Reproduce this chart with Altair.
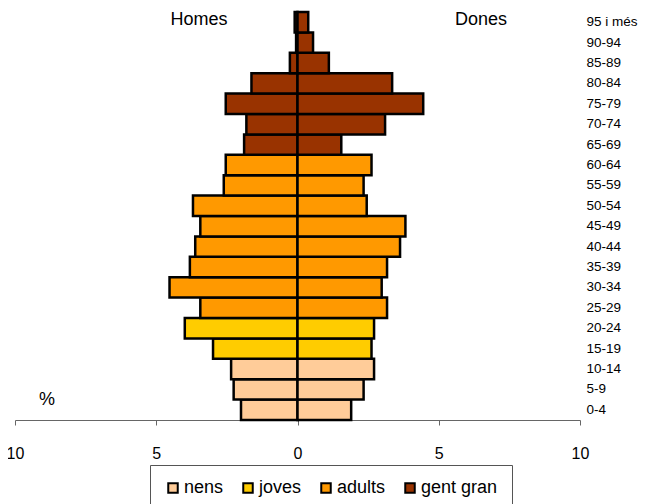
import altair as alt
import pandas as pd

ages = ["0-4", "5-9", "10-14", "15-19", "20-24", "25-29", "30-34", "35-39",
        "40-44", "45-49", "50-54", "55-59", "60-64", "65-69", "70-74", "75-79",
        "80-84", "85-89", "90-94", "95 i més"]
homes = [2.00, 2.26, 2.35, 2.99, 3.99, 3.44, 4.53, 3.81, 3.62, 3.44, 3.70,
         2.61, 2.54, 1.89, 1.81, 2.54, 1.63, 0.27, 0.05, 0.10]
dones = [1.90, 2.34, 2.71, 2.62, 2.71, 3.17, 2.98, 3.17, 3.63, 3.82, 2.45,
         2.34, 2.62, 1.55, 3.10, 4.45, 3.35, 1.11, 0.55, 0.38]
grups = ["nens"] * 3 + ["joves"] * 2 + ["adults"] * 8 + ["gent gran"] * 7
grup_names = ["nens", "joves", "adults", "gent gran"]
grup_colors = ["#FFCC99", "#FFCC00", "#FF9900", "#993300"]

rows = []
for a, h, d, g in zip(ages, homes, dones, grups):
    rows.append({"edat": a, "valor": -h, "sexe": "Homes", "grup": g})
    rows.append({"edat": a, "valor": d, "sexe": "Dones", "grup": g})
df = pd.DataFrame(rows)

FONT = "Liberation Sans"

x = alt.X("valor:Q",
          scale=alt.Scale(domain=[-10, 10], nice=False, zero=False),
          axis=alt.Axis(values=[-10, -5, 0, 5, 10], title=None, grid=False,
                        labelExpr="abs(datum.value)", labelFontSize=16,
                        labelFont=FONT, labelColor="black", labelPadding=20,
                        tickSize=5, tickColor="#666", domainColor="#666",
                        labelFlush=False))
y = alt.Y("edat:N", sort=list(reversed(ages)),
          scale=alt.Scale(paddingInner=0, paddingOuter=0),
          axis=alt.Axis(orient="right", title=None, domain=False, ticks=False,
                        labelFontSize=13.5, labelFont=FONT, labelColor="black",
                        labelPadding=6))

bars = alt.Chart(df).mark_bar(stroke="black", strokeWidth=2.5).encode(
    x=x, y=y,
    color=alt.Color("grup:N",
                    scale=alt.Scale(domain=grup_names, range=grup_colors),
                    legend=alt.Legend(title=None, orient="none", legendX=135,
                                      legendY=453, direction="horizontal",
                                      symbolType="square", symbolSize=90,
                                      symbolStrokeColor="black",
                                      symbolStrokeWidth=2,
                                      labelFontSize=18, labelFont=FONT,
                                      labelColor="black", columnPadding=15,
                                      labelOffset=2, padding=14,
                                      strokeColor="#555"))
)

labels = pd.DataFrame({"t": ["Homes", "Dones", "%"],
                       "px": [184, 466, 32], "py": [8, 8, 388]})
texts = alt.Chart(labels).mark_text(font=FONT, fontSize=18, color="black",
                                    align="center", baseline="middle").encode(
    x=alt.X("px:Q", scale=None), y=alt.Y("py:Q", scale=None), text="t:N")

chart = alt.layer(bars, texts).properties(
    width=565, height=408,
    padding={"left": 7, "top": 4, "right": 68, "bottom": 110},
    autosize=alt.AutoSizeParams(type="none"),
).configure_view(stroke=None)

chart.save("out.html", embed_options={"renderer": "svg", "actions": False})
